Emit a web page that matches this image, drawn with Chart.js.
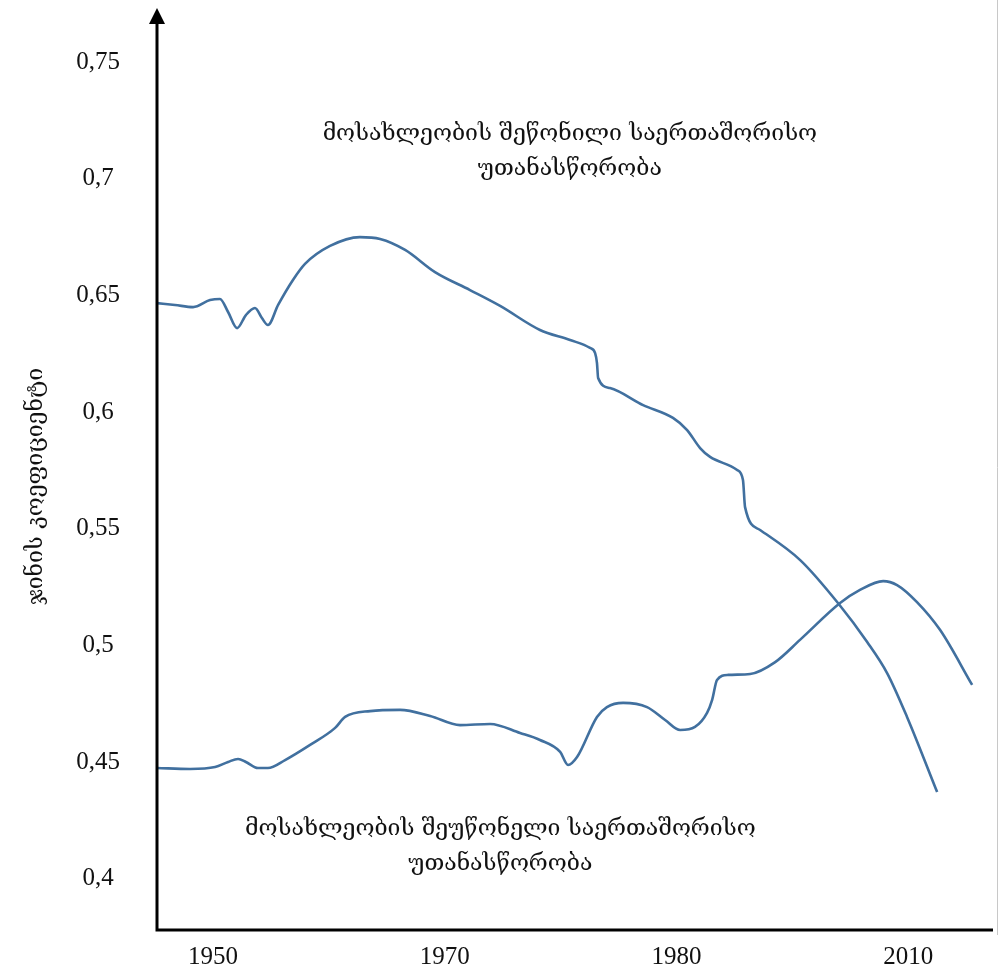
<!DOCTYPE html>
<html>
<head>
<meta charset="utf-8">
<script src="https://cdn.jsdelivr.net/npm/chart.js@4"></script>
<style>
  html, body { margin: 0; padding: 0; background: #fff; }
  #wrap { position: relative; width: 999px; height: 973px; }
</style>
</head>
<body>
<div id="wrap"><canvas id="chart" width="999" height="973"></canvas></div>
<script>
// x is measured in label slots of 10 units: 0 -> '1950', 10 -> '1970', ...
const xTickValues = [0, 10, 20, 30];
const xTickLabels = ['1950', '1970', '1980', '2010'];
const yTickValues = [0.4, 0.45, 0.5, 0.55, 0.6, 0.65, 0.7, 0.75];

const weightedX = [-2.42, -1.64, -0.86, -0.13, 0.30, 0.65, 1.04, 1.42, 1.81, 2.11, 2.37, 2.81, 3.45, 3.97,
  5.05, 6.34, 7.21, 8.29, 9.58, 11.09, 12.39, 14.11, 15.41, 16.27, 16.49, 16.57, 16.62, 17.13, 18.56,
  19.85, 20.46, 21.02, 21.45, 22.62, 22.87, 22.96, 23.61, 25.34, 26.97, 28.23, 29.09, 29.95, 31.25];
const weightedY = [0.6467, 0.6459, 0.6450, 0.6480, 0.6485, 0.6429, 0.6360, 0.6416, 0.6446, 0.6403, 0.6373, 0.6459, 0.6566, 0.6635,
  0.6712, 0.6750, 0.6742, 0.6695, 0.6600, 0.6523, 0.6455, 0.6352, 0.6309, 0.6275, 0.6253, 0.6210, 0.6146, 0.6103, 0.6030,
  0.5975, 0.5923, 0.5846, 0.5808, 0.5752, 0.5709, 0.5593, 0.5495, 0.5366, 0.5182, 0.5015, 0.4882, 0.4694, 0.4372];

const unweightedX = [-2.42, -0.99, 0.09, 0.65, 1.08, 1.42, 1.94, 2.37, 3.11, 4.19, 5.27, 5.70, 6.78, 8.07,
  9.37, 10.66, 11.96, 13.25, 14.11, 14.98, 15.32, 15.71, 16.57, 17.00, 17.70, 18.73, 19.51, 20.16, 20.80,
  21.32, 21.54, 21.75, 22.23, 23.18, 24.26, 25.33, 27.06, 27.92, 28.92, 29.52, 30.38, 31.38, 32.76];
const unweightedY = [0.4475, 0.4471, 0.4479, 0.4501, 0.4514, 0.4501, 0.4475, 0.4475, 0.4509, 0.4574, 0.4647, 0.4694, 0.4719, 0.4724,
  0.4698, 0.4659, 0.4664, 0.4625, 0.4595, 0.4544, 0.4488, 0.4522, 0.4694, 0.4736, 0.4754, 0.4736, 0.4681, 0.4638, 0.4651,
  0.4711, 0.4767, 0.4852, 0.4874, 0.4878, 0.4929, 0.5024, 0.5182, 0.5238, 0.5276, 0.5259, 0.5186, 0.5066, 0.4831];

const weightedLabel = ['მოსახლეობის შეწონილი საერთაშორისო', 'უთანასწორობა'];
const unweightedLabel = ['მოსახლეობის შეუწონელი საერთაშორისო', 'უთანასწორობა'];
const yTitle = 'ჯინის კოეფიციენტი';

const LINE = '#41709f';
const GEO_FONT = '"DejaVu Serif", "DejaVu Sans", serif';
const NUM_FONT = '"Liberation Serif", "DejaVu Serif", serif';
// where the drawn axes start and stop, in y units
const AXIS_TOP = 0.7723;
const AXIS_BOTTOM = 0.3781;

const toPoints = (xs, ys) => xs.map((x, i) => ({ x, y: ys[i] }));

// axes with an arrow on top, plus the two text annotations
const decorations = {
  id: 'decorations',
  afterDraw(chart) {
    const { ctx, chartArea, scales } = chart;
    const { x, y } = scales;
    const top = y.getPixelForValue(AXIS_TOP);
    const bottom = y.getPixelForValue(AXIS_BOTTOM);
    ctx.save();
    ctx.strokeStyle = '#000';
    ctx.fillStyle = '#000';
    ctx.lineWidth = 3;
    ctx.beginPath();
    ctx.moveTo(chartArea.left, top + 12);
    ctx.lineTo(chartArea.left, bottom);
    ctx.lineTo(chartArea.right, bottom);
    ctx.stroke();
    ctx.beginPath();
    ctx.moveTo(chartArea.left, top - 2);
    ctx.lineTo(chartArea.left - 8, top + 14);
    ctx.lineTo(chartArea.left + 8, top + 14);
    ctx.closePath();
    ctx.fill();

    ctx.strokeStyle = '#c8c8c8';
    ctx.lineWidth = 1;
    ctx.beginPath();
    ctx.moveTo(997.5, 0);
    ctx.lineTo(997.5, bottom + 5);
    ctx.stroke();

    ctx.fillStyle = '#111';
    ctx.font = '23px ' + GEO_FONT;
    ctx.textAlign = 'center';
    ctx.textBaseline = 'middle';
    const drawBlock = (lines, cx, cy) => {
      lines.forEach((t, i) => ctx.fillText(t, x.getPixelForValue(cx), y.getPixelForValue(cy) + i * 35));
    };
    drawBlock(weightedLabel, 15.4, 0.7193);
    drawBlock(unweightedLabel, 12.4, 0.4212);
    ctx.restore();
  }
};

new Chart(document.getElementById('chart'), {
  type: 'line',
  data: {
    datasets: [
      { label: 'weighted', data: toPoints(weightedX, weightedY) },
      { label: 'unweighted', data: toPoints(unweightedX, unweightedY) }
    ]
  },
  options: {
    responsive: false,
    animation: false,
    layout: { padding: { left: 0, right: 6, top: 10, bottom: 0 } },
    elements: {
      point: { radius: 0 },
      line: { borderColor: LINE, borderWidth: 2.6, cubicInterpolationMode: 'monotone', fill: false }
    },
    plugins: {
      legend: { display: false },
      tooltip: { enabled: false }
    },
    scales: {
      x: {
        type: 'linear',
        min: -2.4172,
        max: 33.66,
        border: { display: false },
        grid: { display: false, drawTicks: false },
        afterFit: (s) => { s.height = 43; },
        afterBuildTicks: (s) => { s.ticks = xTickValues.map(v => ({ value: v })); },
        ticks: {
          padding: 21,
          maxRotation: 0,
          autoSkip: false,
          color: '#111',
          font: { family: NUM_FONT, size: 25 },
          callback: (v) => xTickLabels[xTickValues.indexOf(v)]
        }
      },
      y: {
        min: 0.38196,
        max: 0.7543,
        border: { display: false },
        grid: { display: false, drawTicks: false },
        afterFit: (s) => { s.width = 157; },
        afterBuildTicks: (s) => { s.ticks = yTickValues.map(v => ({ value: v })); },
        ticks: {
          padding: 37,
          crossAlign: 'center',
          color: '#111',
          font: { family: NUM_FONT, size: 25 },
          callback: (v) => String(v).replace('.', ',')
        },
        title: {
          display: true,
          text: yTitle,
          color: '#111',
          font: { family: GEO_FONT, size: 23 },
          padding: { top: 22, bottom: 0 }
        }
      }
    }
  },
  plugins: [decorations]
});
</script>
</body>
</html>
